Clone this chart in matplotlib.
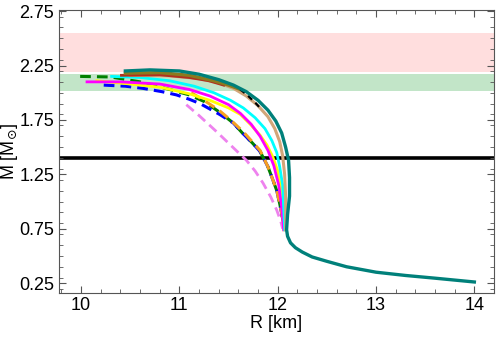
import numpy as np
import matplotlib
matplotlib.use("Agg")
import matplotlib.pyplot as plt
from matplotlib.ticker import MultipleLocator

# Curvas massa-raio (R em km, M em massas solares)
r_teal = [10.45, 10.70, 11.00, 11.20, 11.40, 11.55, 11.68, 11.80, 11.90, 11.98, 12.04, 12.08,
          12.11, 12.12, 12.12, 12.10, 12.09, 12.10, 12.13, 12.18, 12.25, 12.35, 12.50, 12.70,
          13.00, 13.30, 13.60, 14.00]
m_teal = [2.20, 2.21, 2.20, 2.17, 2.12, 2.07, 2.01, 1.93, 1.84, 1.74, 1.63, 1.50,
          1.38, 1.22, 1.05, 0.88, 0.74, 0.68, 0.62, 0.575, 0.535, 0.49, 0.45, 0.40,
          0.35, 0.32, 0.295, 0.26]

r_tan = [10.50, 10.90, 11.20, 11.40, 11.55, 11.68, 11.80, 11.90, 11.97, 12.02, 12.05, 12.07,
         12.08, 12.08, 12.08]
m_tan = [2.16, 2.155, 2.13, 2.09, 2.04, 1.97, 1.88, 1.78, 1.67, 1.55, 1.42, 1.25,
         1.05, 0.88, 0.74]

r_olive = [10.45, 10.80, 11.10, 11.35, 11.50, 11.62]
m_olive = [2.18, 2.185, 2.16, 2.11, 2.07, 2.03]

r_black = [11.62, 11.70, 11.78, 11.84]
m_black = [2.03, 1.97, 1.90, 1.84]

r_red = [10.41, 10.80, 11.10, 11.30, 11.45]
m_red = [2.16, 2.165, 2.14, 2.11, 2.07]

r_cyan = [10.31, 10.60, 10.90, 11.15, 11.35, 11.52, 11.65, 11.77, 11.87, 11.94, 11.99, 12.02,
          12.05, 12.06, 12.07]
m_cyan = [2.15, 2.14, 2.11, 2.06, 2.00, 1.93, 1.86, 1.77, 1.67, 1.56, 1.45, 1.32,
          1.15, 0.95, 0.74]

r_magenta = [10.06, 10.40, 10.80, 11.10, 11.31, 11.50, 11.62, 11.73, 11.82, 11.90, 11.96,
             12.01, 12.04, 12.06]
m_magenta = [2.10, 2.10, 2.08, 2.03, 1.97, 1.89, 1.81, 1.71, 1.60, 1.47, 1.33,
             1.15, 0.95, 0.74]

r_yellow = [10.16, 10.50, 10.81, 11.10, 11.31, 11.50, 11.62, 11.72, 11.82, 11.89, 11.95,
            12.00, 12.03, 12.05, 12.06]
m_yellow = [2.11, 2.08, 2.05, 1.99, 1.93, 1.86, 1.80, 1.71, 1.61, 1.52, 1.41,
            1.28, 1.12, 0.92, 0.74]

r_green = [9.99, 10.30, 10.60, 10.90, 11.10, 11.25, 11.41, 11.55, 11.64, 11.74, 11.82, 11.90,
           11.95, 11.99, 12.02, 12.04, 12.07]
m_green = [2.15, 2.145, 2.10, 2.03, 1.98, 1.92, 1.82, 1.72, 1.63, 1.54, 1.46, 1.32,
           1.20, 1.10, 0.98, 0.89, 0.75]

r_blue = [10.23, 10.45, 10.63, 10.82, 10.97, 11.10, 11.21, 11.31, 11.41, 11.55, 11.64, 11.74,
          11.82, 11.90, 11.95, 11.99, 12.02, 12.04, 12.07]
m_blue = [2.07, 2.06, 2.04, 2.01, 1.98, 1.94, 1.90, 1.85, 1.80, 1.72, 1.63, 1.54,
          1.46, 1.32, 1.20, 1.10, 0.98, 0.89, 0.75]

r_orange = [11.12, 11.25, 11.40, 11.52, 11.65, 11.74, 11.82, 11.90, 11.95, 11.99, 12.02,
            12.04, 12.07]
m_orange = [2.00, 1.93, 1.84, 1.75, 1.64, 1.55, 1.47, 1.32, 1.20, 1.10, 0.98,
            0.89, 0.75]

r_violet = [11.07, 11.20, 11.38, 11.53, 11.68, 11.77, 11.85, 11.93, 11.99, 12.03, 12.05]
m_violet = [1.89, 1.79, 1.64, 1.51, 1.38, 1.28, 1.17, 1.04, 0.92, 0.82, 0.75]

# Faixas de restrição observacional
faixa_vermelha = (2.19, 2.55)
faixa_verde = (2.02, 2.17)
m_canonica = 1.4

plt.rcParams['font.family'] = ['Liberation Sans', 'DejaVu Sans']

fig = plt.figure(figsize=(4.98, 3.47), dpi=100)
ax = fig.add_axes([0.1175, 0.156, 0.8745, 0.815])

ax.axhspan(*faixa_vermelha, color='#ffdede', lw=0, zorder=0)
ax.axhspan(*faixa_verde, color='#c2e5c8', lw=0, zorder=0)
ax.axhline(m_canonica, color='black', lw=2.6, zorder=1)

dash = (0, (3.5, 2.0))
ax.plot(r_green, m_green, color='green', lw=2.2, ls=dash)
ax.plot(r_blue, m_blue, color='blue', lw=2.2, ls=dash)
ax.plot(r_orange, m_orange, color='#f5a020', lw=2.2, ls=dash)
ax.plot(r_violet, m_violet, color='violet', lw=2.0, ls=dash)
ax.plot(r_yellow, m_yellow, color='yellow', lw=2.0)
ax.plot(r_magenta, m_magenta, color='magenta', lw=2.0)
ax.plot(r_cyan, m_cyan, color='cyan', lw=2.0)
ax.plot(r_tan, m_tan, color='#d2a679', lw=2.2)
ax.plot(r_red, m_red, color='#b03020', lw=2.0)
ax.plot(r_olive, m_olive, color='#8c7a1e', lw=2.4)
ax.plot(r_black, m_black, color='black', lw=1.6, ls=(0, (2.5, 2.0)))
ax.plot(r_teal, m_teal, color='#00807a', lw=2.4)

ax.set_xlim(9.77, 14.2)
ax.set_ylim(0.16, 2.76)
ax.xaxis.set_major_locator(MultipleLocator(1))
ax.xaxis.set_minor_locator(MultipleLocator(0.2))
ax.set_yticks([0.25, 0.75, 1.25, 1.75, 2.25, 2.75])
ax.yaxis.set_minor_locator(MultipleLocator(0.1))

ax.tick_params(which='both', direction='in', top=True, right=True, color='#555555')
ax.tick_params(which='major', length=5, width=0.8, labelsize=13, pad=3)
ax.tick_params(which='minor', length=3, width=0.6)
for s in ax.spines.values():
    s.set_color('#555555')
    s.set_linewidth(0.8)

ax.set_xlabel('R [km]', fontsize=13, labelpad=1)
ax.set_ylabel(r'M [M$_{\odot}$]', fontsize=13)
ax.yaxis.set_label_coords(-0.088, 0.5)

fig.savefig('out.png', dpi=100)
